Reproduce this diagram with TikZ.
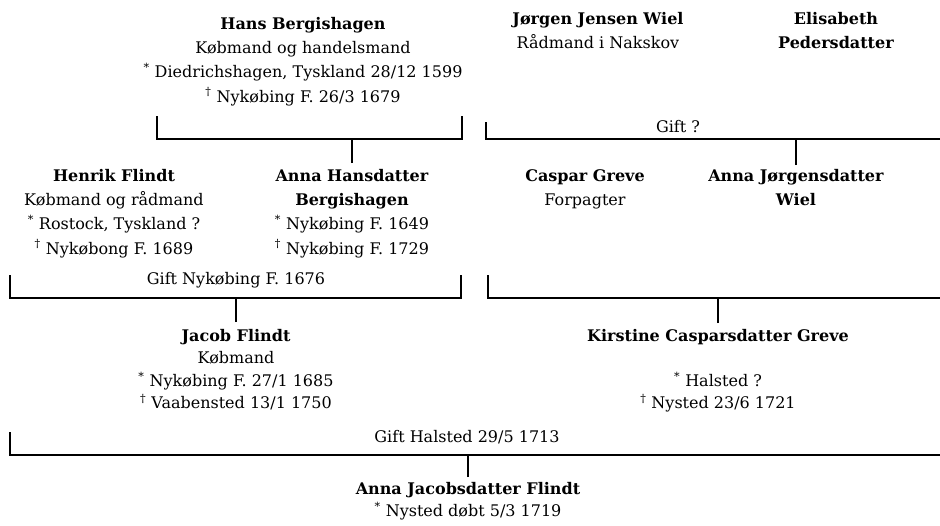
\documentclass[tikz,border=0pt]{standalone}
\usepackage{fontspec}
\setmainfont{DejaVu Serif}
\usetikzlibrary{calc}
\newcommand{\born}{\textsuperscript{*}\ }
\newcommand{\died}{\textsuperscript{\dag}\ }
\tikzset{
    person/.style={align=center, inner sep=0pt, anchor=north,
        font=\fontsize{16}{24.3}\selectfont},
    tight/.style={font=\fontsize{16}{22.5}\selectfont},
    gift/.style={inner sep=0pt, anchor=base, font=\fontsize{16}{18}\selectfont},
    tree/.style={line width=1.8pt},
}

\begin{document}
\begin{tikzpicture}[x=1pt, y=-1pt]
    \useasboundingbox (0,0) rectangle (940,525);
    % first generation
    \node[person] (hans) at (303,17) {\textbf{Hans Bergishagen}\\
        Købmand og handelsmand\\
        \born Diedrichshagen, Tyskland 28/12 1599\\
        \died Nykøbing F. 26/3 1679};
    \node[person] (joergen) at (598,12) {\textbf{Jørgen Jensen Wiel}\\
        Rådmand i Nakskov};
    \node[person] (elisabeth) at (836,12) {\textbf{Elisabeth}\\
        \textbf{Pedersdatter}};
    % second generation
    \node[person] (henrik) at (114,169) {\textbf{Henrik Flindt}\\
        Købmand og rådmand\\
        \born Rostock, Tyskland ?\\
        \died Nykøbong F. 1689};
    \node[person] (annah) at (352,169) {\textbf{Anna Hansdatter}\\
        \textbf{Bergishagen}\\
        \born Nykøbing F. 1649\\
        \died Nykøbing F. 1729};
    \node[person] (caspar) at (585,169) {\textbf{Caspar Greve}\\Forpagter};
    \node[person] (annaj) at (796,169) {\textbf{Anna Jørgensdatter}\\
        \textbf{Wiel}};
    % third generation
    \node[person, tight] (jacob) at (236,329) {\textbf{Jacob Flindt}\\
        Købmand\\
        \born Nykøbing F. 27/1 1685\\
        \died Vaabensted 13/1 1750};
    \node[person, tight] (kirstine) at (718,329) {\textbf{Kirstine Casparsdatter Greve}\\[22.5pt]
        \born Halsted ?\\
        \died Nysted 23/6 1721};
    \node[person, tight] (annaf) at (468,482) {\textbf{Anna Jacobsdatter Flindt}\\
        \born Nysted døbt 5/3 1719};
    % marriages
    \node[gift] (gift1) at (678,132) {Gift ?};
    \node[gift] (gift2) at (236,284) {Gift Nykøbing F. 1676};
    \node[gift] (gift3) at (467,442) {Gift Halsted 29/5 1713};
    \coordinate (bar1) at (0,139);
    \coordinate (bar2) at (0,298);
    \coordinate (bar3) at (0,455);
    \foreach \l/\r/\t/\b in {157/462/116/139, 10/461/275/298}
        \draw[tree] (\l,\t) |- (\r,\b) -- (\r,\t);
    \foreach \l/\t/\b in {486/122/139, 488/275/298, 10/432/455}
        \draw[tree] (\l,\t) |- (940,\b);
    % descent
    \draw[tree, shorten <=6pt] (annah.north) -- (annah.north |- bar1);
    \draw[tree, shorten <=4pt] (annaj.north) -- (annaj.north |- bar1);
    \draw[tree, shorten <=7pt] (jacob.north) -- (jacob.north |- bar2);
    \draw[tree, shorten <=6pt] (kirstine.north) -- (kirstine.north |- bar2);
    \draw[tree, shorten <=5pt] (annaf.north) -- (annaf.north |- bar3);
\end{tikzpicture}
\end{document}
